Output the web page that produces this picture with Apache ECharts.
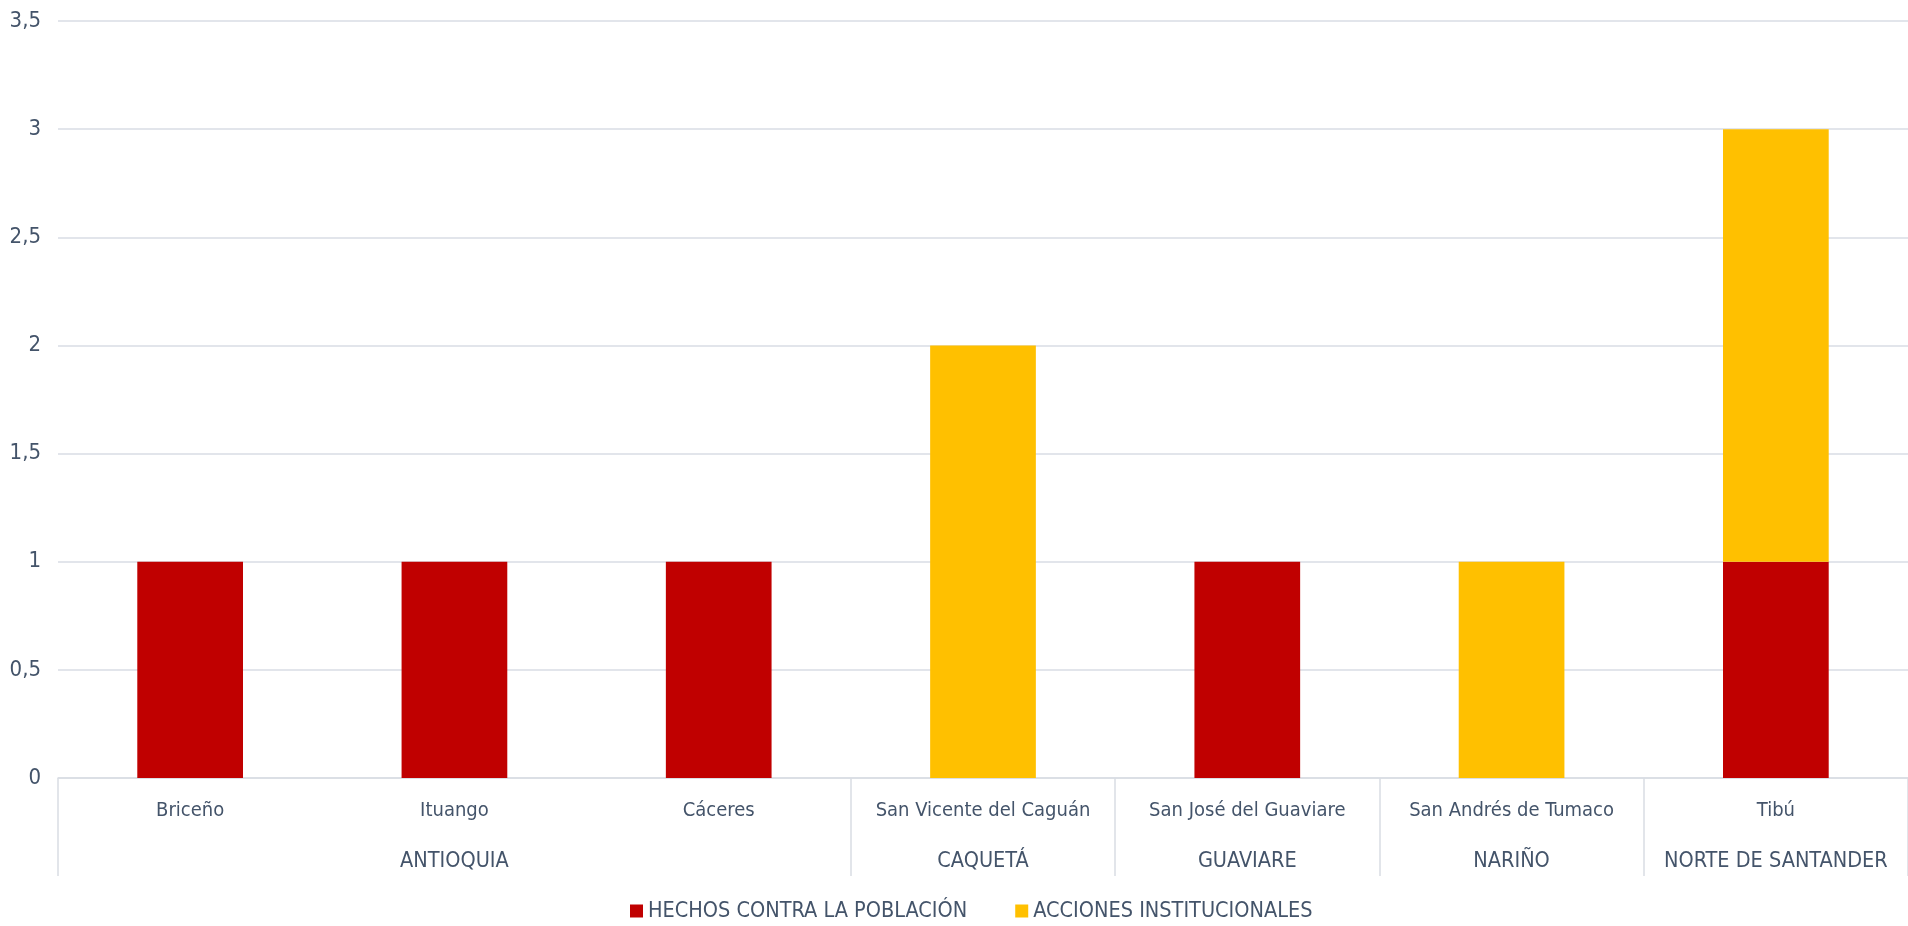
<!DOCTYPE html>
<html>
<head>
<meta charset="utf-8">
<script src="https://cdn.jsdelivr.net/npm/echarts@6/dist/echarts.min.js"></script>
<style>
html,body{margin:0;padding:0;background:#fff;}
#chart{width:1908px;height:926px;}
</style>
</head>
<body>
<div id="chart"></div>
<script>
const municipios = ['Briceño', 'Ituango', 'Cáceres', 'San Vicente del Caguán', 'San José del Guaviare', 'San Andrés de Tumaco', 'Tibú'];
const departamentos = ['', 'ANTIOQUIA', '', 'CAQUETÁ', 'GUAVIARE', 'NARIÑO', 'NORTE DE SANTANDER'];
const groupBoundaries = [0, 3, 4, 5, 6];
const hechos = [1, 1, 1, 0, 1, 0, 1];
const acciones = [0, 0, 0, 2, 0, 1, 2];
const yTicks = { min: 0, max: 3.5, interval: 0.5 };

const FONT = '"DejaVu Sans Condensed", "Liberation Sans Narrow", sans-serif';
const TXT = '#44546A';
const GRID = '#D9DDE4';

const chart = echarts.init(document.getElementById('chart'));
chart.setOption({
  animation: false,
  textStyle: { fontFamily: FONT },
  grid: { left: 58, right: 0, top: 21, bottom: 148, containLabel: false },
  legend: {
    data: ['HECHOS CONTRA LA POBLACIÓN', 'ACCIONES INSTITUCIONALES'],
    left: 630,
    top: 900,
    padding: 0,
    itemWidth: 13,
    itemHeight: 13,
    itemGap: 48,
    icon: 'rect',
    textStyle: { fontFamily: FONT, fontSize: 21.5, color: TXT }
  },
  xAxis: [
    {
      type: 'category',
      data: municipios,
      axisLine: { show: true, lineStyle: { color: GRID, width: 1.5 } },
      axisTick: { show: false },
      axisLabel: { interval: 0, margin: 23, fontFamily: FONT, fontSize: 20, color: TXT }
    },
    {
      type: 'category',
      data: departamentos,
      position: 'bottom',
      axisLine: { show: false },
      axisTick: {
        show: true,
        length: 98,
        interval: function (index) { return groupBoundaries.indexOf(index) >= 0; },
        lineStyle: { color: GRID, width: 1.5 }
      },
      axisLabel: { interval: 0, margin: 72, fontFamily: FONT, fontSize: 21.5, color: TXT }
    }
  ],
  yAxis: {
    type: 'value',
    min: yTicks.min,
    max: yTicks.max,
    interval: yTicks.interval,
    axisLine: { show: false },
    axisTick: { show: false },
    splitLine: { lineStyle: { color: GRID, width: 1.5 } },
    axisLabel: {
      margin: 17,
      fontFamily: FONT,
      fontSize: 22,
      color: TXT,
      formatter: function (v) { return String(v).replace('.', ','); }
    }
  },
  series: [
    {
      name: 'HECHOS CONTRA LA POBLACIÓN',
      type: 'bar',
      stack: 'total',
      barWidth: '40%',
      itemStyle: { color: '#C00000' },
      data: hechos
    },
    {
      name: 'ACCIONES INSTITUCIONALES',
      type: 'bar',
      stack: 'total',
      barWidth: '40%',
      itemStyle: { color: '#FFC000' },
      data: acciones
    }
  ]
});
</script>
</body>
</html>
